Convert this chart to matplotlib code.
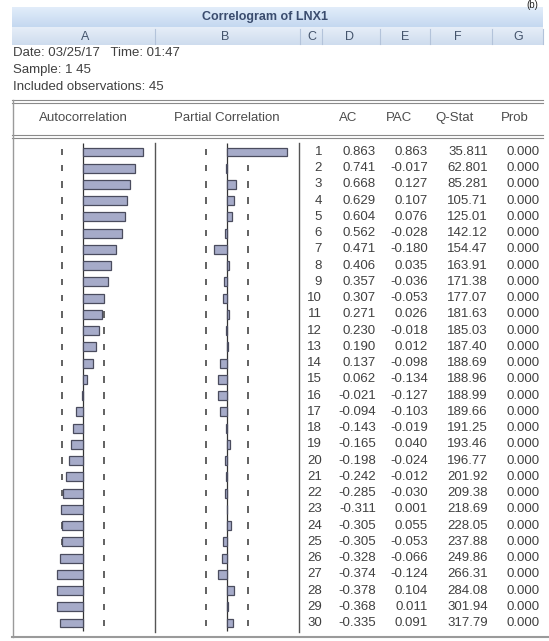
import numpy as np
import matplotlib.pyplot as plt
from matplotlib.colors import LinearSegmentedColormap

plt.rcParams['font.family'] = ['Liberation Sans', 'DejaVu Sans']

series = "LNX1"
n_obs = 45
lags = np.arange(1, 31)
ac = [0.863, 0.741, 0.668, 0.629, 0.604, 0.562, 0.471, 0.406, 0.357, 0.307,
      0.271, 0.230, 0.190, 0.137, 0.062, -0.021, -0.094, -0.143, -0.165, -0.198,
      -0.242, -0.285, -0.311, -0.305, -0.305, -0.328, -0.374, -0.378, -0.368, -0.335]
pac = [0.863, -0.017, 0.127, 0.107, 0.076, -0.028, -0.180, 0.035, -0.036, -0.053,
       0.026, -0.018, 0.012, -0.098, -0.134, -0.127, -0.103, -0.019, 0.040, -0.024,
       -0.012, -0.030, 0.001, 0.055, -0.053, -0.066, -0.124, 0.104, 0.011, 0.091]
qstat = [35.811, 62.801, 85.281, 105.71, 125.01, 142.12, 154.47, 163.91, 171.38, 177.07,
         181.63, 185.03, 187.40, 188.69, 188.96, 188.99, 189.66, 191.25, 193.46, 196.77,
         201.92, 209.38, 218.69, 228.05, 237.88, 249.86, 266.31, 284.08, 301.94, 317.79]
prob = [0.000] * 30

col_letters = ["A", "B", "C", "D", "E", "F", "G"]
header_labels = ["Autocorrelation", "Partial Correlation", "AC", "PAC", "Q-Stat", "Prob"]
info_lines = ["Date: 03/25/17   Time: 01:47", "Sample: 1 45",
              "Included observations: 45"]

W, H = 549, 641
txt = '#404040'
bar_face = '#a6abc9'
bar_edge = '#4a4c5e'
fs = 9.5


def qfmt(q):
    # five significant digits, like the EViews output
    digits = len(str(int(q)))
    return f"{q:.{max(5 - digits, 0)}f}"


fig = plt.figure(figsize=(W / 100, H / 100), dpi=100)

# background layer in pixel units for the window chrome
bg = fig.add_axes([0, 0, 1, 1])
bg.axis('off')

title_cmap = LinearSegmentedColormap.from_list('t', ['#e2edfa', '#c4d8f0'])
col_cmap = LinearSegmentedColormap.from_list('c', ['#e6eef8', '#cedcee'])
grad = np.linspace(0, 1, 50).reshape(-1, 1)
bg.imshow(grad, extent=(12, 543, 27, 7), cmap=title_cmap, aspect='auto', origin='upper')
bg.imshow(grad, extent=(12, 543, 45, 27), cmap=col_cmap, aspect='auto', origin='upper')
bg.set_xlim(0, W)
bg.set_ylim(H, 0)

bg.text(265, 17, f"Correlogram of {series}", ha='center', va='center',
        fontsize=9, fontweight='bold', color='#3a4c6e')
for x in [155, 300, 322, 380, 430, 492, 543]:
    bg.plot([x, x], [29, 44], color='#b3c3da', lw=0.8)
for x, lab in zip([85, 225, 312, 350, 405, 458, 518], col_letters):
    bg.text(x, 37, lab, ha='center', va='center', fontsize=9, color='#44546c')

bg.text(532, 0, "(b)", ha='center', va='top', fontsize=7, color='#222222')

for y, line in zip([53, 70, 87], info_lines):
    bg.text(13, y, line, ha='left', va='center', fontsize=fs, color=txt)

# double rules around the column headings
for y in [100, 135]:
    bg.plot([12, 543], [y, y], color='#8a8a8a', lw=0.8)
    bg.plot([12, 543], [y + 2.5, y + 2.5], color='#8a8a8a', lw=0.8)

for x, lab in zip([83, 227, 348, 399, 455, 515], header_labels):
    bg.text(x, 118, lab, ha='center', va='center', fontsize=fs, color='#4c4c4c')

# frame and column separators
bg.plot([13, 13], [100, 637], color='#9a9a9a', lw=1.0)
bg.plot([12, W], [637, 637], color='#9a9a9a', lw=1.5)
for x in [155, 299]:
    bg.plot([x, x], [143, 632], color='#555555', lw=1.0)

# correlogram panels share the lag axis
y_lim = (30 + (635 - 623) / 16.24, 1 - (152 - 140) / 16.24)
bound = 2 / np.sqrt(n_obs)
px_per_unit = 70.0


def panel(left_px, right_px, zero_px, values):
    ax = fig.add_axes([left_px / W, 1 - 635 / H, (right_px - left_px) / W, (635 - 140) / H])
    ax.set_xlim(-(zero_px - left_px) / px_per_unit, (right_px - zero_px) / px_per_unit)
    ax.set_ylim(*y_lim)
    ax.axis('off')
    ax.patch.set_alpha(0)
    for b in (-bound, bound):
        ax.vlines(np.full(len(lags), b), lags - 0.2, lags + 0.2,
                  color='#555555', lw=1.3, zorder=1)
    ax.vlines(0, 0.45, 30.5, color='#333333', lw=0.9, zorder=2)
    ax.barh(lags, values, height=0.55, left=0, color=bar_face,
            edgecolor=bar_edge, linewidth=0.9, zorder=3)
    return ax


panel(13, 155, 83, ac)
panel(155, 299, 227, pac)

# numeric table
tab = fig.add_axes([299 / W, 1 - 635 / H, (W - 299) / W, (635 - 140) / H])
tab.set_xlim(299, W)
tab.set_ylim(*y_lim)
tab.axis('off')
tab.patch.set_alpha(0)
for i, k in enumerate(lags):
    row = [str(k), f"{ac[i]:.3f}", f"{pac[i]:.3f}", qfmt(qstat[i]), f"{prob[i]:.3f}"]
    for x, s in zip([322, 376, 428, 488, 540], row):
        tab.text(x, k, s, ha='right', va='center', fontsize=fs, color=txt)

fig.savefig('out.png', dpi=100)
